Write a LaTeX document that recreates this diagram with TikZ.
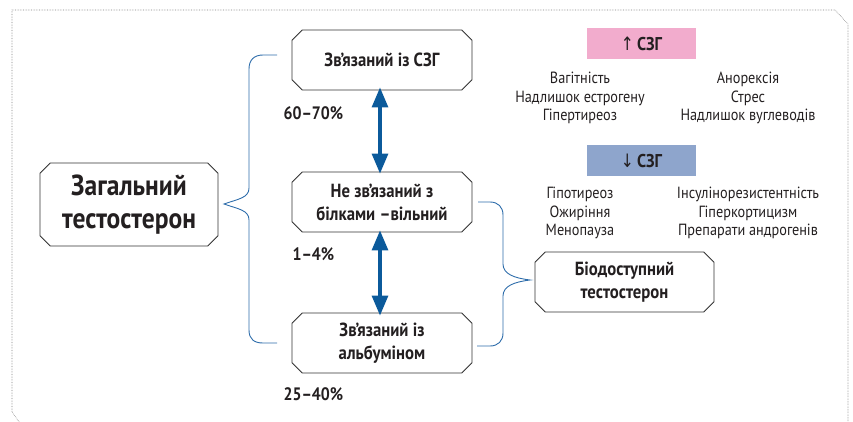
\documentclass[tikz,border=0pt]{standalone}
\usepackage{fontspec}
\setmainfont{PT Sans}[FakeStretch=0.88]
\newfontfamily\arrowfont{DejaVu Sans}[FakeStretch=0.84]
\usetikzlibrary{shapes.misc,arrows.meta}
\definecolor{boxline}{HTML}{333333}
\definecolor{bracecol}{HTML}{2E6DAB}
\definecolor{arrcol}{HTML}{0B5A9B}
\definecolor{pinkbg}{HTML}{F2ACCD}
\definecolor{bluebg}{HTML}{8EA5CC}
\definecolor{txt}{HTML}{231F20}
\tikzset{
  cbox/.style={chamfered rectangle, chamfered rectangle xsep=7pt, draw=boxline, line width=0.9pt, fill=white, align=center, text=txt, inner sep=0pt, font=\bfseries\fontsize{19}{23}\selectfont},
  brace/.style={draw=bracecol, line width=0.9pt},
  dbl/.style={draw=arrcol, line width=3.2pt, {Triangle[width=16pt,length=20pt]}-{Triangle[width=16pt,length=20pt]}},
  pct/.style={text=txt, font=\bfseries\fontsize{18}{20}\selectfont, anchor=west},
  lst/.style={text=txt, align=center, font=\fontsize{16.2}{18.5}\selectfont},
  tag/.style={minimum width=109pt, minimum height=31pt, inner sep=0pt, text=txt, font=\bfseries\fontsize{18.5}{20}\selectfont},
}
\begin{document}
\begin{tikzpicture}[x=1pt,y=-1pt]
\useasboundingbox (0,0) rectangle (853,422);
\draw[gray, densely dotted, line width=0.6pt] (22,426) -- (12,412) -- (12,10) -- (835,10) -- (848,24) -- (848,426);

\node[cbox, minimum width=178pt, minimum height=83pt, font=\bfseries\fontsize{29}{32.5}\selectfont] (tot) at (129,204.5) {Загальний\\тестостерон};
\node[cbox, minimum width=180pt, minimum height=60pt] (b1) at (382,60) {Зв’язаний із СЗГ};
\node[cbox, minimum width=180pt, minimum height=60pt] (b2) at (382,202) {Не зв’язаний з\\білками –вільний};
\node[cbox, minimum width=180pt, minimum height=60pt] (b3) at (382,343) {Зв’язаний із\\альбуміном};
\node[cbox, minimum width=179pt, minimum height=60pt] (b4) at (624.5,282) {Біодоступний\\тестостерон};

% left brace
\coordinate (lt) at (277,55);
\coordinate (lb) at (277,343);
\coordinate (ltip) at (224,204);
\draw[brace] (lt) -- (263,55) .. controls (254,55) and (249,60) .. (249,69) -- (249,188)
  .. controls (249,198) and (238,199) .. (ltip)
  .. controls (238,209) and (249,210) .. (249,220) -- (249,330)
  .. controls (249,339) and (254,343) .. (263,343) -- (lb);
% right brace
\coordinate (rt) at (478,202);
\coordinate (rb) at (477,346);
\coordinate (rtip) at (530,280);
\draw[brace] (rt) -- (490,202) .. controls (498,202) and (503,207) .. (503,215) -- (503,264)
  .. controls (503,274) and (514,278) .. (rtip)
  .. controls (514,282) and (503,286) .. (503,296) -- (503,333)
  .. controls (503,341) and (498,346) .. (490,346) -- (rb);

% arrows
\draw[dbl] ([xshift=-2pt,yshift=3pt]b1.south) -- ([xshift=-2pt,yshift=-2pt]b2.north);
\draw[dbl] ([xshift=-2pt,yshift=2pt]b2.south) -- ([xshift=-2pt,yshift=-3pt]b3.north);

% percentages
\node[pct] (p1) at (280,113) {60–70\%};
\node[pct] (p2) at (289,254) {1–4\%};
\node[pct] (p3) at (280,394) {25–40\%};

% tags
\node[tag, fill=pinkbg] (up) at (641.5,43.5) {{\arrowfont\mdseries ↑}\,СЗГ};
\node[tag, fill=bluebg] (down) at (641.5,160.5) {{\arrowfont\mdseries ↓}\,СЗГ};

% lists
\node[lst] (l1) at (580,98) {Вагітність\\Надлишок естрогену\\Гіпертиреоз};
\node[lst] (l2) at (748,98) {Анорексія\\Стрес\\Надлишок вуглеводів};
\node[lst] (l3) at (580,213) {Гіпотиреоз\\Ожиріння\\Менопауза};
\node[lst] (l4) at (748,213) {Інсулінорезистентність\\Гіперкортицизм\\Препарати андрогенів};
\end{tikzpicture}
\end{document}
